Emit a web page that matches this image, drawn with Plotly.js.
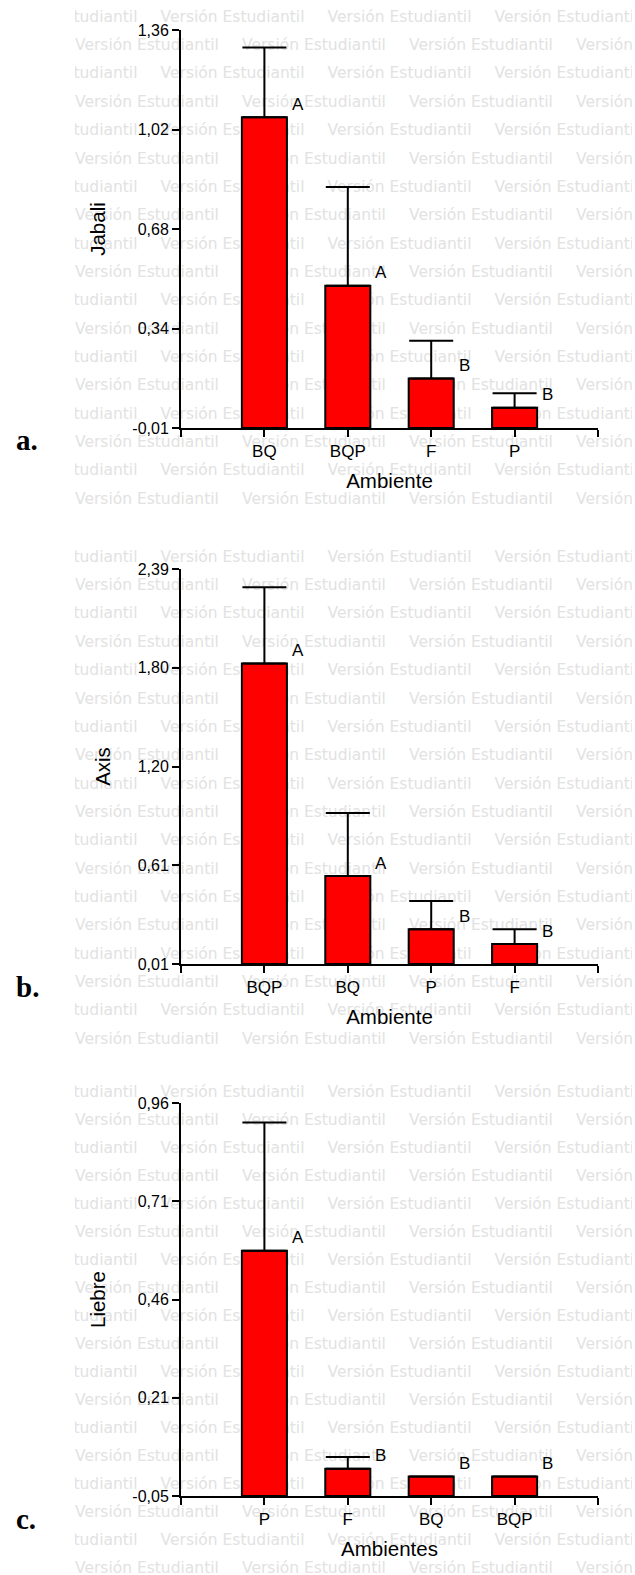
<!DOCTYPE html>
<html>
<head>
<meta charset="utf-8">
<script src="https://cdn.plot.ly/plotly-3.0.1.min.js"></script>
<style>
  html, body { margin: 0; padding: 0; background: #ffffff; }
  #wrap { position: relative; width: 635px; height: 1575px; overflow: hidden; }
  #wm { position: absolute; left: 75px; top: 0; width: 557px; height: 1575px; overflow: hidden; }
  #wm span { position: absolute; white-space: pre; font-family: 'DejaVu Sans', sans-serif;
             font-size: 15.5px; line-height: 20px; color: #e2e2e2; }
  #chart { position: absolute; left: 0; top: 0; width: 635px; height: 1575px; }
</style>
</head>
<body>
<div id="wrap">
  <div id="wm"></div>
  <div id="chart"></div>
</div>
<script>
// ---- Panel a: Jabali ----
const catsA = ['BQ', 'BQP', 'F', 'P'];
const jabali = [1.06, 0.48, 0.16, 0.06];
const jabaliErr = [0.24, 0.34, 0.13, 0.05];
const jabaliGroups = ['A', 'A', 'B', 'B'];
const ticksA = [-0.01, 0.3325, 0.675, 1.0175, 1.36];
const tickTextA = ['-0,01', '0,34', '0,68', '1,02', '1,36'];

// ---- Panel b: Axis ----
const catsB = ['BQP', 'BQ', 'P', 'F'];
const axisDeer = [1.82, 0.54, 0.22, 0.13];
const axisErr = [0.46, 0.38, 0.17, 0.09];
const axisGroups = ['A', 'A', 'B', 'B'];
const ticksB = [0.01, 0.605, 1.2, 1.795, 2.39];
const tickTextB = ['0,01', '0,61', '1,20', '1,80', '2,39'];

// ---- Panel c: Liebre ----
const catsC = ['P', 'F', 'BQ', 'BQP'];
const liebre = [0.58, 0.02, 0, 0];
const liebreErr = [0.33, 0.03, 0, 0];
const liebreGroups = ['A', 'B', 'B', 'B'];
const ticksC = [-0.05, 0.2025, 0.455, 0.7075, 0.96];
const tickTextC = ['-0,05', '0,21', '0,46', '0,71', '0,96'];

const W = 635, H = 1575;
const px = v => v / W;          // pixel column -> paper x
const py = v => 1 - v / H;      // pixel row -> paper y

// Background "Versión Estudiantil" stamp rows
const WM_TEXT = 'Versión Estudiantil';
const wmBands = [
  { first: 16.5, step: 28.35, rows: 18 },
  { first: 556.5, step: 28.35, rows: 18 },
  { first: 1091.5, step: 28.0, rows: 18 }
];
(function drawStamp() {
  const box = document.getElementById('wm');
  const period = 167, left = 75;
  wmBands.forEach(b => {
    for (let r = 0; r < b.rows; r++) {
      const yc = b.first + r * b.step;
      const x0 = (r % 2 === 0) ? -6.4 : 75;
      for (let k = 0; k < 5; k++) {
        const s = document.createElement('span');
        s.textContent = WM_TEXT;
        s.style.left = (x0 + k * period - left) + 'px';
        s.style.top = (yc - 9.75) + 'px';
        box.appendChild(s);
      }
    }
  });
})();

const panels = [
  { cats: catsA, vals: jabali, errs: jabaliErr, groups: jabaliGroups, ticks: ticksA, tickText: tickTextA,
    yTitle: 'Jabali', xTitle: 'Ambiente', tag: 'a.', top: 30, bottom: 428, tagDrop: 12 },
  { cats: catsB, vals: axisDeer, errs: axisErr, groups: axisGroups, ticks: ticksB, tickText: tickTextB,
    yTitle: 'Axis', xTitle: 'Ambiente', tag: 'b.', top: 569, bottom: 964, tagDrop: 23 },
  { cats: catsC, vals: liebre, errs: liebreErr, groups: liebreGroups, ticks: ticksC, tickText: tickTextC,
    yTitle: 'Liebre', xTitle: 'Ambientes', tag: 'c.', top: 1103, bottom: 1496, tagDrop: 23 }
];

const yTickFont = { family: 'Liberation Sans, Arial, sans-serif', size: 16, color: '#000' };
const xTickFont = { family: 'Liberation Sans, Arial, sans-serif', size: 17, color: '#000' };
const titleFont = { family: 'Liberation Sans, Arial, sans-serif', size: 20.5, color: '#000' };

const traces = [];
const annotations = [];
const layout = {
  width: W, height: H,
  margin: { l: 0, r: 0, t: 0, b: 0 },
  paper_bgcolor: 'rgba(0,0,0,0)',
  plot_bgcolor: 'rgba(0,0,0,0)',
  showlegend: false,
  annotations: annotations
};

panels.forEach((p, i) => {
  const n = i === 0 ? '' : String(i + 1);
  const xa = 'x' + n, ya = 'y' + n;
  const ymin = p.ticks[0], ymax = p.ticks[p.ticks.length - 1];
  const idx = p.cats.map((c, j) => j);

  traces.push({
    type: 'bar',
    x: idx,
    y: p.vals.map(v => v - ymin),
    base: ymin,
    width: 0.54,
    xaxis: xa, yaxis: ya,
    marker: { color: '#ff0000', line: { color: '#000', width: 2 } },
    error_y: {
      type: 'data', symmetric: false,
      array: p.errs, arrayminus: p.errs.map(() => 0),
      color: '#000', thickness: 2, width: 22
    },
    hoverinfo: 'skip'
  });

  layout['xaxis' + n] = {
    domain: [px(181), px(598)],
    anchor: ya,
    range: [-1, 4],
    tickmode: 'array',
    tickvals: [-1].concat(idx, [p.cats.length]),
    ticktext: [''].concat(p.cats, ['']),
    showline: true, linecolor: '#000', linewidth: 2,
    ticks: 'outside', ticklen: 7, tickwidth: 2, tickcolor: '#000',
    showgrid: false, zeroline: false,
    tickfont: xTickFont,
    title: { text: p.xTitle, font: titleFont, standoff: 13 },
    fixedrange: true
  };
  layout['yaxis' + n] = {
    domain: [py(p.bottom), py(p.top)],
    anchor: xa,
    range: [ymin, ymax],
    tickmode: 'array',
    tickvals: p.ticks,
    ticktext: p.tickText,
    showline: true, linecolor: '#000', linewidth: 2,
    ticks: 'outside', ticklen: 7, tickwidth: 2, tickcolor: '#000',
    showgrid: false, zeroline: false,
    tickfont: yTickFont,
    title: { text: p.yTitle, font: titleFont, standoff: 21 },
    fixedrange: true
  };

  // significance letters beside each bar
  p.groups.forEach((g, j) => {
    annotations.push({
      xref: xa, yref: ya, x: j + 0.27, y: p.vals[j],
      text: g, showarrow: false, xanchor: 'left', yanchor: 'middle',
      xshift: 3, yshift: 13,
      font: { family: 'Liberation Sans, Arial, sans-serif', size: 17, color: '#000' }
    });
  });

  // panel tag
  annotations.push({
    xref: 'paper', yref: 'paper', x: px(14), y: py(p.bottom + p.tagDrop),
    text: '<b>' + p.tag + '</b>', showarrow: false, xanchor: 'left', yanchor: 'middle',
    font: { family: 'Liberation Serif, Times New Roman, serif', size: 29, color: '#000' }
  });
});

Plotly.newPlot('chart', traces, layout, { staticPlot: true, displayModeBar: false });
</script>
</body>
</html>
